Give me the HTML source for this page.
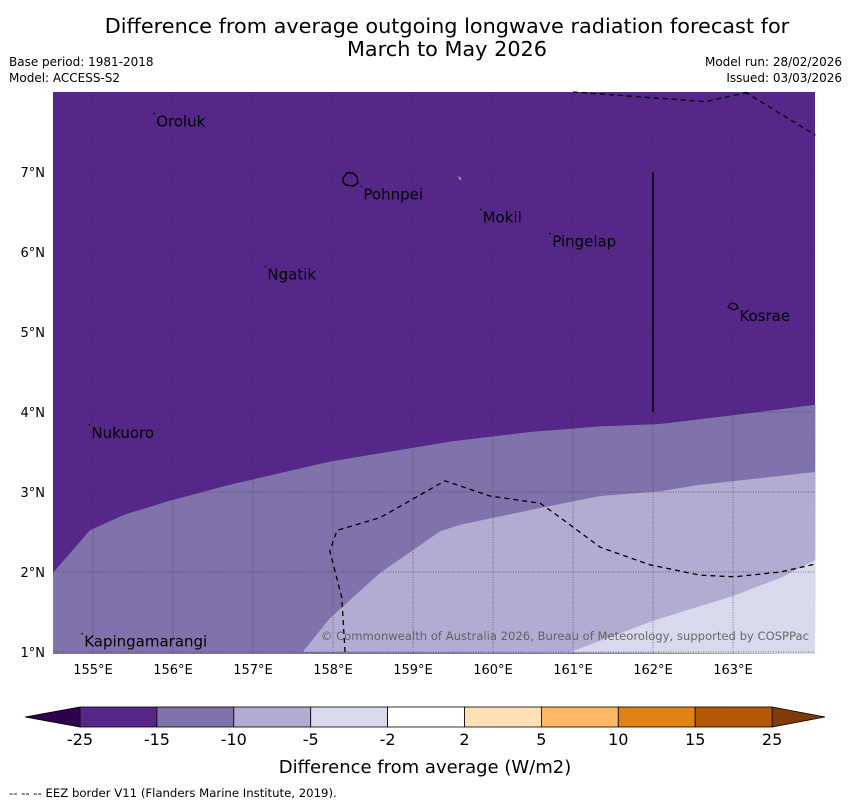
<!DOCTYPE html>
<html><head><meta charset="utf-8">
<style>
body{margin:0;background:#fff;width:850px;height:804px;overflow:hidden;font-family:"DejaVu Sans","Liberation Sans",sans-serif;}
svg{display:block}
</style></head>
<body>
<svg id="chart" width="850" height="804" xmlns="http://www.w3.org/2000/svg">
<text x="447" y="33" font-size="20.8" text-anchor="middle">Difference from average outgoing longwave radiation forecast for</text>
<text x="447" y="56" font-size="20.8" text-anchor="middle">March to May 2026</text>
<text x="9" y="66" font-size="12">Base period: 1981-2018</text>
<text x="9" y="82" font-size="12">Model: ACCESS-S2</text>
<text x="842" y="66" font-size="12" text-anchor="end">Model run: 28/02/2026</text>
<text x="842" y="82" font-size="12" text-anchor="end">Issued: 03/03/2026</text>
<g id="map"></g>
<g id="cbar"></g>
<text x="425" y="773" font-size="18" text-anchor="middle">Difference from average (W/m2)</text>
<text x="9" y="797" font-size="11.7">--  --  -- EEZ border V11 (Flanders Marine Institute, 2019).</text>
</svg>
<script>
const NS="http://www.w3.org/2000/svg";
// Data arrays
const lonTicks=[155,156,157,158,159,160,161,162,163];
const latTicks=[1,2,3,4,5,6,7];
const cbLevels=[-25,-15,-10,-5,-2,2,5,10,15,25];
const cbColors=["#542788","#8073ac","#b2abd2","#d8daeb","#ffffff","#fee0b6","#fdb863","#e08214","#b35806"];
// contour boundaries [lon,lat]
const bound15=[[154.5,1.99],[154.96,2.52],[155.4,2.72],[155.96,2.89],[156.71,3.09],[157.96,3.38],[159.46,3.63],[160.46,3.75],[161.34,3.82],[162.09,3.85],[163.09,3.97],[164.03,4.09]];
const bound10=[[157.62,1],[157.96,1.42],[158.59,1.99],[159.34,2.51],[159.59,2.59],[160.59,2.8],[161.34,2.95],[162.09,3.01],[162.59,3.09],[164.03,3.25]];
const bound5=[[160.97,1],[162,1.39],[163,1.7],[163.6,1.93],[164.03,2.15]];
const eezA=[[158.15,1],[158.11,1.68],[158.03,1.99],[157.96,2.26],[158.05,2.52],[158.15,2.55],[158.59,2.68],[159.03,2.93],[159.4,3.14],[159.96,2.95],[160.59,2.86],[160.84,2.68],[161.34,2.31],[161.96,2.09],[162.59,1.96],[163.02,1.94],[163.59,2.0],[164.03,2.1]];
const eezB=[[161.0,8],[162.65,7.88],[163.21,8]];
const eezC=[[163.15,8],[164.03,7.46]];
const places=["Oroluk","Pohnpei","Mokil","Pingelap","Ngatik","Kosrae","Nukuoro","Kapingamarangi"];
const placeLon=[155.79,158.38,159.87,160.74,157.18,163.08,154.98,154.89];
const placeLat=[7.63,6.72,6.43,6.13,5.72,5.2,3.74,1.13];

const X0=53,X1=815,Y0=92,Y1=654;
const xs=lon=>X0+(lon-154.5)*80;
const ys=lat=>Y0+(8-lat)*80;
const map=document.getElementById('map');
function mk(tag,attrs,parent){const e=document.createElementNS(NS,tag);for(const k in attrs)e.setAttribute(k,attrs[k]);(parent||map).appendChild(e);return e;}
const pts=a=>a.map(p=>xs(p[0]).toFixed(1)+","+ys(p[1]).toFixed(1)).join(" ");

let r=mk('rect',{x:X0,y:Y0,width:X1-X0,height:Y1-Y0,fill:cbColors[0]});


let p1=mk('polygon',{points:pts(bound15)+` ${X1},${Y1} ${X0},${Y1}`,fill:cbColors[1]});


let p2=mk('polygon',{points:pts(bound10)+` ${X1},${Y1}`,fill:cbColors[2]});


let p3=mk('polygon',{points:pts(bound5)+` ${X1},${Y1}`,fill:cbColors[3]});



// gridlines
lonTicks.forEach(l=>{
  const g=mk('line',{x1:xs(l),x2:xs(l),y1:Y0,y2:Y1,stroke:"#333",'stroke-width':0.7,'stroke-dasharray':"1,1.5",opacity:0.8});
  
  
  const t=mk('text',{x:xs(l),y:674,'font-size':13,'text-anchor':'middle'});t.textContent=l+"°E";
  
  
});
latTicks.forEach(l=>{
  const g=mk('line',{x1:X0,x2:X1,y1:ys(l),y2:ys(l),stroke:"#333",'stroke-width':0.7,'stroke-dasharray':"1,1.5",opacity:0.8});
  
  
  const t=mk('text',{x:45,y:ys(l)+5,'font-size':13,'text-anchor':'end'});t.textContent=l+"°N";
  
  
});
// EEZ lines
[eezA,eezB,eezC].forEach(a=>{
  const l=mk('polyline',{points:pts(a),fill:'none',stroke:'#000','stroke-width':1.3,'stroke-dasharray':'5,4'});
  
  
});
const vl=mk('line',{x1:xs(162),x2:xs(162),y1:ys(7),y2:ys(4),stroke:'#000','stroke-width':1.5});


const pohn=mk('path',{d:"M343,178 l4,-5 l6,0 l4,4 l1,6 l-5,3 l-7,-1 l-3,-3 z",fill:'none',stroke:'#000','stroke-width':1.5});


const kos=mk('path',{d:"M728,307 l3,-4 l5,1 l2,4 l-4,2 z",fill:'none',stroke:'#000','stroke-width':1.2});


const ant=mk('path',{d:"M458,176 l3,2 l-1,3 z",fill:'#aaa'});


places.forEach((n,i)=>{
  const t=mk('text',{x:xs(placeLon[i]),y:ys(placeLat[i])+5,'font-size':15});t.textContent=n;
  
  
  const d=mk('circle',{cx:xs(placeLon[i])-2,cy:ys(placeLat[i])-8,r:0.8,fill:'#000'});
  
  
});
const cp=mk('text',{x:809,y:640,'font-size':11.6,'text-anchor':'end',fill:'#555',opacity:0.85});
cp.textContent="© Commonwealth of Australia 2026, Bureau of Meteorology, supported by COSPPac";



// colorbar
const cb=document.getElementById('cbar');
const CB0=80,CBW=76.9,CBY=707,CBH=20;
const lt=mk('polygon',{points:`25,${CBY+CBH/2} ${CB0},${CBY} ${CB0},${CBY+CBH}`,fill:'#2d004b',stroke:'#000','stroke-width':0.8},cb);


const rt=mk('polygon',{points:`825,${CBY+CBH/2} ${CB0+9*CBW},${CBY} ${CB0+9*CBW},${CBY+CBH}`,fill:'#7f3b08',stroke:'#000','stroke-width':0.8},cb);


cbColors.forEach((c,i)=>{
  const b=mk('rect',{x:CB0+i*CBW,y:CBY,width:CBW,height:CBH,fill:c,stroke:'#000','stroke-width':0.8},cb);
  
  
});
cbLevels.forEach((v,i)=>{
  const t=mk('text',{x:CB0+i*CBW,y:745,'font-size':16,'text-anchor':'middle'},cb);t.textContent=v;
  
  
});
</script>
</body></html>
